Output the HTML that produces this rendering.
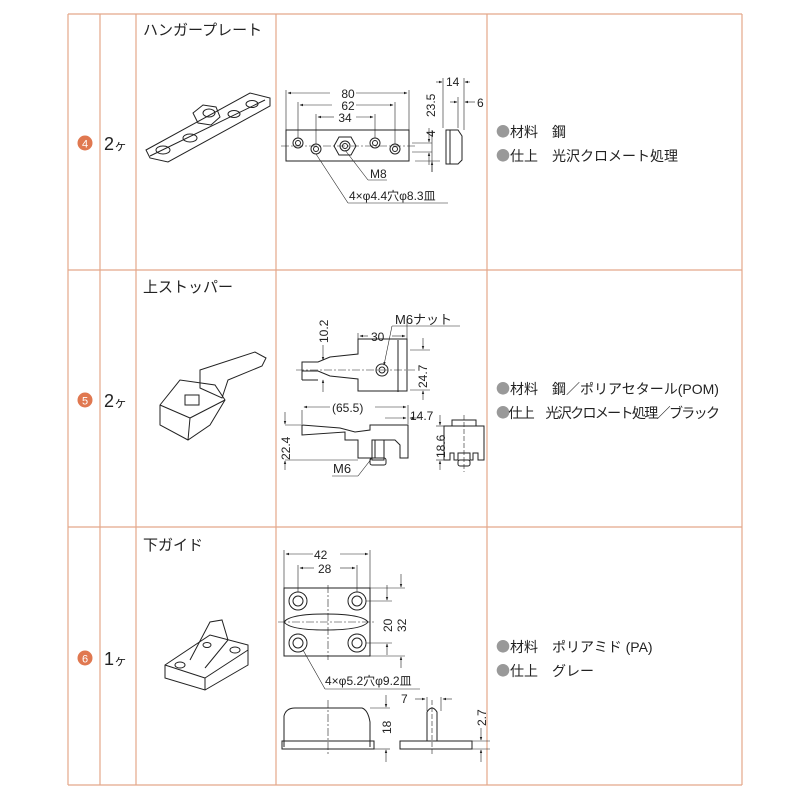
<!DOCTYPE html>
<html><head><meta charset="utf-8"><style>
body{margin:0;background:#fff}
svg{display:block}
text{font-family:"Liberation Sans","Noto Sans CJK JP",sans-serif;fill:#222;stroke:none}
.l{stroke:#222;stroke-width:1;fill:none}
.t{stroke:#222;stroke-width:.6;fill:none}
.g{stroke:#e4a88a;stroke-width:1.2}
.d{font-size:12px}
.s{font-size:14px}
.b{font-family:"Noto Sans CJK JP",sans-serif;fill:#999}
</style></head><body>
<svg width="800" height="800" viewBox="0 0 800 800">
<defs><marker id="a" markerWidth="6" markerHeight="6" refX="5" refY="3" orient="auto"><path d="M0,1 L6,3 L0,5z" fill="#222"/></marker></defs>
<g class="g">
<line x1="68" y1="14" x2="742" y2="14"/><line x1="68" y1="270" x2="742" y2="270"/><line x1="68" y1="527" x2="742" y2="527"/><line x1="68" y1="785" x2="742" y2="785"/>
<line x1="68" y1="14" x2="68" y2="785"/><line x1="100" y1="14" x2="100" y2="785"/><line x1="136" y1="14" x2="136" y2="785"/><line x1="276" y1="14" x2="276" y2="785"/><line x1="487" y1="14" x2="487" y2="785"/><line x1="742" y1="14" x2="742" y2="785"/>
</g>
<circle cx="85" cy="143" r="7.5" fill="#e07850"/><text x="85" y="147.5" font-size="11" text-anchor="middle" style="fill:#fff">4</text>
<circle cx="85" cy="400" r="7.5" fill="#e07850"/><text x="85" y="404.5" font-size="11" text-anchor="middle" style="fill:#fff">5</text>
<circle cx="85" cy="658" r="7.5" fill="#e07850"/><text x="85" y="662.5" font-size="11" text-anchor="middle" style="fill:#fff">6</text>
<text x="104" y="150" font-size="18">2<tspan font-size="13">ヶ</tspan></text>
<text x="104" y="407" font-size="18">2<tspan font-size="13">ヶ</tspan></text>
<text x="104" y="665" font-size="18">1<tspan font-size="13">ヶ</tspan></text>
<text x="143" y="35" font-size="15">ハンガープレート</text>
<text x="143" y="292" font-size="15">上ストッパー</text>
<text x="143" y="550" font-size="15">下ガイド</text>
<g class="s">
<text x="496" y="137"><tspan class="b">●</tspan>材料　鋼</text>
<text x="496" y="161"><tspan class="b">●</tspan>仕上　光沢クロメート処理</text>
<text x="496" y="394"><tspan class="b">●</tspan>材料　鋼／ポリアセタール(POM)</text>
<text x="496" y="418" textLength="224"><tspan class="b">●</tspan>仕上　光沢クロメート処理／ブラック</text>
<text x="496" y="652"><tspan class="b">●</tspan>材料　ポリアミド (PA)</text>
<text x="496" y="676"><tspan class="b">●</tspan>仕上　グレー</text>
</g>
<g class="l" stroke-width="1.2">
<polygon points="146,150 250,93 270,98 270,106 168,162 150,158"/>
<line x1="150" y1="156" x2="265" y2="100"/>
<polygon points="193,113 203,105 216,107 220,117 211,125 198,123"/>
<ellipse cx="209" cy="113" rx="6" ry="4"/>
<ellipse cx="163" cy="150" rx="7" ry="4"/><ellipse cx="190" cy="138" rx="7" ry="4"/><ellipse cx="234" cy="114" rx="6" ry="3.5"/><ellipse cx="252" cy="104" rx="6" ry="3.5"/>
<polygon points="200,370 255,352 266,358 262,366 228,380 222,398 200,388"/>
<polygon points="160,405 180,380 215,385 225,400 210,425 188,440 160,425"/>
<line x1="160" y1="405" x2="190" y2="418"/><line x1="190" y1="418" x2="225" y2="400"/><line x1="190" y1="418" x2="188" y2="440"/>
<rect x="185" y="395" width="14" height="10"/>
<polygon points="165,665 210,635 248,645 248,665 205,690 165,678"/>
<line x1="165" y1="665" x2="205" y2="678"/><line x1="205" y1="678" x2="248" y2="650"/><line x1="205" y1="678" x2="205" y2="690"/>
<path d="M190,660 L210,622 222,620 228,640 205,668"/>
<ellipse cx="180" cy="665" rx="5" ry="3"/><ellipse cx="235" cy="650" rx="5" ry="3"/><ellipse cx="207" cy="645" rx="4" ry="2.5"/>
</g>
<g class="l">
<rect x="286" y="130" width="123" height="31"/>
<line x1="281" y1="146" x2="415" y2="146" stroke-dasharray="8,2,2,2" class="t"/>
<polygon points="334,146 339,137 351,137 356,146 351,155 339,155"/>
<circle cx="345" cy="146" r="5"/><circle cx="345" cy="146" r="2.5"/>
<circle cx="298" cy="143" r="5"/><circle cx="298" cy="143" r="2.5"/>
<circle cx="316" cy="149" r="5"/><circle cx="316" cy="149" r="2.5"/>
<circle cx="375" cy="143" r="5"/><circle cx="375" cy="143" r="2.5"/>
<circle cx="395" cy="149" r="5"/><circle cx="395" cy="149" r="2.5"/>
<g class="t">
<line x1="286" y1="90" x2="286" y2="130"/><line x1="409" y1="90" x2="409" y2="130"/>
<line x1="298" y1="102" x2="298" y2="138"/><line x1="395" y1="102" x2="395" y2="144"/>
<line x1="316" y1="114" x2="316" y2="144"/><line x1="375" y1="114" x2="375" y2="138"/>
<line x1="330" y1="93" x2="288" y2="93" marker-end="url(#a)"/><line x1="356" y1="93" x2="407" y2="93" marker-end="url(#a)"/>
<line x1="332" y1="105" x2="300" y2="105" marker-end="url(#a)"/><line x1="356" y1="105" x2="393" y2="105" marker-end="url(#a)"/>
<line x1="334" y1="117" x2="318" y2="117" marker-end="url(#a)"/><line x1="356" y1="117" x2="373" y2="117" marker-end="url(#a)"/>
<line x1="412" y1="143" x2="432" y2="143"/><line x1="412" y1="152" x2="432" y2="152"/>
<line x1="429" y1="128" x2="429" y2="142" marker-end="url(#a)"/><line x1="429" y1="165" x2="429" y2="153" marker-end="url(#a)"/>
<line x1="415" y1="161" x2="440" y2="161"/>
<line x1="432" y1="130" x2="432" y2="172"/>
<line x1="432" y1="172" x2="432" y2="162" marker-end="url(#a)"/>
<line x1="345" y1="150" x2="368" y2="180"/><line x1="368" y1="180" x2="387" y2="180"/>
<line x1="316" y1="154" x2="348" y2="203"/><line x1="348" y1="203" x2="448" y2="203"/>
</g>
<text x="370" y="178" class="d">M8</text>
<text x="349" y="200" class="d">4×φ4.4穴φ8.3皿</text>
<text x="348" y="98" class="d" text-anchor="middle">80</text>
<text x="348" y="110" class="d" text-anchor="middle">62</text>
<text x="345" y="122" class="d" text-anchor="middle">34</text>
<text class="d" transform="translate(435,117) rotate(-90)">23.5</text>
<text class="d" transform="translate(435,137) rotate(-90)">4</text>
<path d="M446,130 L458,130 L462,136 L462,160 L458,164 L446,164z"/>
<line x1="450" y1="130" x2="450" y2="164"/>
<g class="t"><line x1="443" y1="78" x2="443" y2="128"/><line x1="464" y1="78" x2="464" y2="130"/><line x1="458" y1="97" x2="458" y2="128"/>
<line x1="436" y1="82" x2="442" y2="82" marker-end="url(#a)"/><line x1="470" y1="82" x2="465" y2="82" marker-end="url(#a)"/>
<line x1="450" y1="102" x2="457" y2="102" marker-end="url(#a)"/><line x1="475" y1="102" x2="465" y2="102" marker-end="url(#a)"/></g>
<text x="446" y="86" class="d">14</text><text x="477" y="107" class="d">6</text>
</g>
<g class="l">
<path d="M302,363 L318,363 L330,358 L358,355 L358,340 L407,340 L407,392 L358,392 L358,380 L330,377 L318,372 L302,372z" transform="translate(0,-1)"/>
<line x1="302" y1="362" x2="302" y2="380"/><line x1="302" y1="380" x2="318" y2="380"/>
<line x1="398" y1="340" x2="398" y2="392"/>
<circle cx="382" cy="370" r="6"/><circle cx="382" cy="370" r="3"/>
<line x1="296" y1="370" x2="415" y2="370" class="t" stroke-dasharray="8,2,2,2"/>
<g class="t">
<line x1="358" y1="333" x2="358" y2="340"/><line x1="407" y1="320" x2="407" y2="340"/>
<line x1="368" y1="336" x2="360" y2="336" marker-end="url(#a)"/><line x1="392" y1="336" x2="405" y2="336" marker-end="url(#a)"/>
<line x1="392" y1="326" x2="384" y2="365" marker-end="url(#a)"/><line x1="392" y1="326" x2="460" y2="326"/>
<line x1="323" y1="345" x2="323" y2="360" marker-end="url(#a)"/><line x1="323" y1="392" x2="323" y2="380" marker-end="url(#a)"/>
<line x1="410" y1="350" x2="430" y2="350"/><line x1="410" y1="390" x2="430" y2="390"/>
<line x1="423" y1="338" x2="423" y2="349" marker-end="url(#a)"/><line x1="423" y1="400" x2="423" y2="391" marker-end="url(#a)"/>
</g>
<text x="395" y="324" font-size="13">M6ナット</text>
<text x="371" y="341" class="d">30</text>
<text class="d" transform="translate(328,343) rotate(-90)">10.2</text>
<text class="d" transform="translate(427,388) rotate(-90)">24.7</text>
<path d="M302,425 L340,428 L355,432 L370,430 L370,425 L408,425 L408,458 L400,458 L400,445 L395,440 L375,440 L375,458 L358,458 L358,440 L345,440 L345,432 L302,435z"/>
<rect x="372" y="440" width="12" height="20"/><rect x="370" y="458" width="16" height="7" rx="2"/>
<g class="t">
<line x1="302" y1="410" x2="302" y2="424"/><line x1="408" y1="405" x2="408" y2="424"/>
<line x1="330" y1="407" x2="304" y2="407" marker-end="url(#a)"/><line x1="375" y1="407" x2="406" y2="407" marker-end="url(#a)"/>
<line x1="385" y1="418" x2="406" y2="418" marker-end="url(#a)"/><line x1="420" y1="418" x2="410" y2="418" marker-end="url(#a)"/>
<line x1="285" y1="425" x2="302" y2="425"/><line x1="285" y1="460" x2="358" y2="460"/>
<line x1="285" y1="412" x2="285" y2="424" marker-end="url(#a)"/><line x1="285" y1="470" x2="285" y2="461" marker-end="url(#a)"/>
<line x1="372" y1="458" x2="358" y2="476"/><line x1="358" y1="476" x2="332" y2="476"/>
</g>
<text x="332" y="412" class="d">(65.5)</text>
<text x="410" y="420" class="d">14.7</text>
<text class="d" transform="translate(290,460) rotate(-90)">22.4</text>
<text x="333" y="473" font-size="13">M6</text>
<path d="M444,426 L484,426 L484,460 L478,460 L478,453 L473,453 L473,460 L470,460 L470,453 L458,453 L458,460 L454,460 L454,453 L450,453 L450,460 L444,460z"/>
<rect x="452" y="420" width="24" height="6"/>
<rect x="458" y="460" width="12" height="6" rx="2"/>
<line x1="464" y1="415" x2="464" y2="472" class="t" stroke-dasharray="5,2"/>
<g class="t"><line x1="436" y1="426" x2="444" y2="426"/><line x1="436" y1="460" x2="444" y2="460"/>
<line x1="440" y1="415" x2="440" y2="425" marker-end="url(#a)"/><line x1="440" y1="470" x2="440" y2="461" marker-end="url(#a)"/></g>
<text class="d" transform="translate(445,458) rotate(-90)">18.6</text>
</g>
<g class="l">
<rect x="284" y="588" width="86" height="68"/>
<path d="M284,622 Q290,614 325,614 Q362,614 368,622 Q362,630 325,630 Q290,630 284,622z"/>
<line x1="328" y1="585" x2="328" y2="660" class="t" stroke-dasharray="8,2,2,2"/>
<line x1="278" y1="622" x2="375" y2="622" class="t" stroke-dasharray="8,2,2,2"/>
<circle cx="298" cy="601" r="9"/><circle cx="298" cy="601" r="5"/>
<circle cx="357" cy="601" r="9"/><circle cx="357" cy="601" r="5"/>
<circle cx="298" cy="643" r="9"/><circle cx="298" cy="643" r="5"/>
<circle cx="357" cy="643" r="9"/><circle cx="357" cy="643" r="5"/>
<g class="t">
<line x1="284" y1="550" x2="284" y2="588"/><line x1="370" y1="550" x2="370" y2="588"/>
<line x1="298" y1="565" x2="298" y2="592"/><line x1="357" y1="565" x2="357" y2="592"/>
<line x1="313" y1="554" x2="286" y2="554" marker-end="url(#a)"/><line x1="340" y1="554" x2="368" y2="554" marker-end="url(#a)"/>
<line x1="314" y1="568" x2="300" y2="568" marker-end="url(#a)"/><line x1="340" y1="568" x2="355" y2="568" marker-end="url(#a)"/>
<line x1="366" y1="601" x2="392" y2="601"/><line x1="366" y1="643" x2="392" y2="643"/>
<line x1="370" y1="588" x2="405" y2="588"/><line x1="370" y1="656" x2="405" y2="656"/>
<line x1="387" y1="585" x2="387" y2="600" marker-end="url(#a)"/><line x1="387" y1="655" x2="387" y2="644" marker-end="url(#a)"/>
<line x1="401" y1="574" x2="401" y2="587" marker-end="url(#a)"/><line x1="401" y1="668" x2="401" y2="657" marker-end="url(#a)"/>
<line x1="303" y1="650" x2="325" y2="689"/><line x1="325" y1="689" x2="420" y2="689"/>
</g>
<text x="314" y="559" class="d">42</text><text x="318" y="573" class="d">28</text>
<text class="d" transform="translate(392,632) rotate(-90)">20</text>
<text class="d" transform="translate(406,632) rotate(-90)">32</text>
<text x="325" y="685" class="d">4×φ5.2穴φ9.2皿</text>
<path d="M284,747 L284,716 Q286,708 295,708 L362,708 Q368,710 370,722 L370,747"/>
<rect x="282" y="741" width="92" height="8"/>
<line x1="328" y1="700" x2="328" y2="756" class="t" stroke-dasharray="8,2,2,2"/>
<g class="t"><line x1="370" y1="708" x2="390" y2="708"/><line x1="374" y1="749" x2="390" y2="749"/>
<line x1="386" y1="695" x2="386" y2="707" marker-end="url(#a)"/><line x1="386" y1="762" x2="386" y2="750" marker-end="url(#a)"/></g>
<text class="d" transform="translate(391,734) rotate(-90)">18</text>
<rect x="400" y="741" width="72" height="8"/>
<path d="M427,741 L427,712 Q432,704 437,712 L437,741"/>
<line x1="432" y1="700" x2="432" y2="756" class="t" stroke-dasharray="5,2"/>
<g class="t"><line x1="427" y1="697" x2="427" y2="711"/><line x1="441" y1="697" x2="441" y2="711"/>
<line x1="415" y1="699" x2="425" y2="699" marker-end="url(#a)"/><line x1="452" y1="699" x2="443" y2="699" marker-end="url(#a)"/>
<line x1="472" y1="741" x2="490" y2="741"/><line x1="472" y1="749" x2="490" y2="749"/>
<line x1="481" y1="728" x2="481" y2="740" marker-end="url(#a)"/><line x1="481" y1="762" x2="481" y2="750" marker-end="url(#a)"/></g>
<text x="401" y="703" class="d">7</text>
<text class="d" transform="translate(486,726) rotate(-90)">2.7</text>
</g>
</svg>
</body></html>
